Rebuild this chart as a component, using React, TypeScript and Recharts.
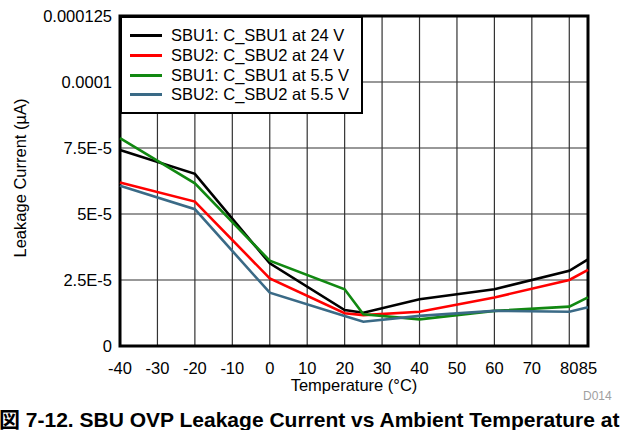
import React from "react";
import {
  CartesianGrid,
  Label,
  Legend,
  Line,
  LineChart,
  ReferenceArea,
  XAxis,
  YAxis,
} from "recharts";

// Leakage current vs temperature, four SBU traces.
const temps = [-40, -20, 0, 20, 25, 40, 60, 80, 85];
const sbu1At24 = [7.42e-5, 6.52e-5, 3.13e-5, 1.36e-5, 1.26e-5, 1.77e-5, 2.15e-5, 2.85e-5, 3.28e-5];
const sbu2At24 = [6.19e-5, 5.47e-5, 2.56e-5, 1.24e-5, 1.17e-5, 1.3e-5, 1.84e-5, 2.5e-5, 2.88e-5];
const sbu1At55 = [7.87e-5, 6.16e-5, 3.23e-5, 2.15e-5, 1.2e-5, 1.01e-5, 1.33e-5, 1.49e-5, 1.84e-5];
const sbu2At55 = [6.07e-5, 5.18e-5, 2.02e-5, 1.14e-5, 0.92e-5, 1.14e-5, 1.33e-5, 1.3e-5, 1.47e-5];

const xTicks = [-40, -30, -20, -10, 0, 10, 20, 30, 40, 50, 60, 70, 80, 85];
const yTicks = [0, 2.5e-5, 5e-5, 7.5e-5, 1e-4, 1.25e-4];
const yTickLabels = ["0", "2.5E-5", "5E-5", "7.5E-5", "0.0001", "0.000125"];

const series = [
  { key: "s1", name: "SBU1: C_SBU1 at 24 V", color: "#000000", values: sbu1At24 },
  { key: "s2", name: "SBU2: C_SBU2 at 24 V", color: "#ff0000", values: sbu2At24 },
  { key: "s3", name: "SBU1: C_SBU1 at 5.5 V", color: "#118811", values: sbu1At55 },
  { key: "s4", name: "SBU2: C_SBU2 at 5.5 V", color: "#3a6a86", values: sbu2At55 },
];

const rows = temps.map((t, i) => {
  const row: Record<string, number> = { t };
  series.forEach((s) => (row[s.key] = s.values[i]));
  return row;
});

const FONT = '"Liberation Sans", Arial, "Noto Sans CJK JP", sans-serif';
const tickStyle = { fontSize: 16.5, fill: "#000", fontFamily: FONT };

function LegendBox() {
  return (
    <div
      style={{
        width: 243,
        height: 98,
        boxSizing: "border-box",
        border: "2px solid #000",
        background: "#fff",
        fontFamily: FONT,
        fontSize: 16.5,
        color: "#000",
        paddingTop: 8,
      }}
    >
      {series.map((s) => (
        <div key={s.key} style={{ display: "flex", alignItems: "center", height: 19.7 }}>
          <span
            style={{
              display: "inline-block",
              width: 32,
              height: 3,
              background: s.color,
              marginLeft: 8,
              marginRight: 9,
            }}
          />
          <span style={{ whiteSpace: "nowrap" }}>{s.name}</span>
        </div>
      ))}
    </div>
  );
}

export default function App() {
  return (
    <div style={{ position: "fixed", left: 0, top: 0, width: 621, height: 430, overflow: "hidden", background: "#fff" }}>
      <LineChart
        width={621}
        height={430}
        data={rows}
        margin={{ top: 16, right: 33, bottom: 54, left: 60 }}
      >
        <CartesianGrid stroke="#333" strokeWidth={1.2} />
        <XAxis
          dataKey="t"
          type="number"
          domain={[-40, 85]}
          ticks={xTicks}
          interval={0}
          axisLine={false}
          tickLine={false}
          tickMargin={10}
          tick={tickStyle}
          height={30}
        >
          <Label
            value="Temperature (°C)"
            position="bottom"
            offset={3}
            style={{ fontSize: 16.5, fill: "#000", fontFamily: FONT }}
          />
        </XAxis>
        <YAxis
          type="number"
          domain={[0, 1.25e-4]}
          ticks={yTicks}
          interval={0}
          width={60}
          axisLine={false}
          tickLine={false}
          tick={tickStyle}
          tickFormatter={(v: number) => yTickLabels[yTicks.indexOf(v)] ?? String(v)}
        >
          <Label
            content={({ viewBox }: any) => {
              const cy = viewBox.y + viewBox.height / 2 - 3;
              return (
                <text
                  x={20}
                  y={cy}
                  transform={`rotate(-90 20 ${cy})`}
                  textAnchor="middle"
                  dominantBaseline="central"
                  style={{ fontSize: 16.5, fill: "#000", fontFamily: FONT }}
                >
                  Leakage Current (µA)
                </text>
              );
            }}
          />
        </YAxis>
        {series.map((s) => (
          <Line
            key={s.key}
            dataKey={s.key}
            name={s.name}
            stroke={s.color}
            strokeWidth={2.6}
            dot={false}
            isAnimationActive={false}
          />
        ))}
        <ReferenceArea
          x1={-40}
          x2={85}
          y1={0}
          y2={1.25e-4}
          fill="none"
          stroke="#000"
          strokeWidth={3}
          ifOverflow="visible"
        />
        <Legend
          layout="vertical"
          align="center"
          verticalAlign="middle"
          wrapperStyle={{ left: 120, top: 16, width: 243, height: 98 }}
          content={() => <LegendBox />}
        />
      </LineChart>
      <div
        style={{
          position: "absolute",
          left: 620 - 621,
          top: 409,
          fontFamily: FONT,
          fontSize: 21,
          lineHeight: "21px",
          fontWeight: "bold",
          whiteSpace: "nowrap",
          color: "#000",
        }}
      >
        図 7-12. SBU OVP Leakage Current vs Ambient Temperature at
      </div>
      <div
        style={{
          position: "absolute",
          left: 583,
          top: 389,
          fontFamily: FONT,
          fontSize: 12,
          color: "#a0a0a0",
        }}
      >
        D014
      </div>
    </div>
  );
}
